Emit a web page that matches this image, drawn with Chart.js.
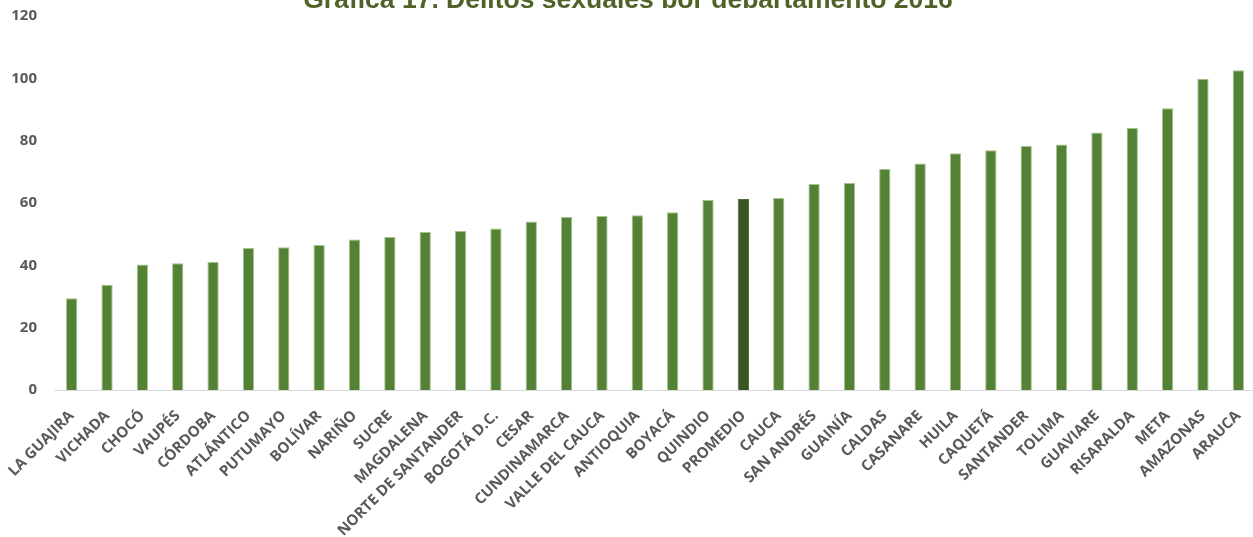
<!DOCTYPE html>
<html lang="es">
<head>
    <meta charset="UTF-8">
    <title>Delitos sexuales por departamento 2016</title>
    <script src="https://cdn.jsdelivr.net/npm/chart.js"></script>
    <style>
        html, body {
            margin: 0;
            padding: 0;
            background: #ffffff;
            overflow: hidden;
        }

        .wrap {
            position: relative;
            width: 1256px;
            height: 537px;
        }

        .title-clip {
            position: absolute;
            left: 0;
            top: 0;
            width: 1256px;
            height: 8px;
            overflow: hidden;
        }

        .title {
            position: absolute;
            left: 0;
            top: -14.4px;
            width: 1256px;
            text-align: center;
            font-family: 'Liberation Sans', Arial, sans-serif;
            font-weight: bold;
            font-size: 26.5px;
            line-height: 26.5px;
            color: #4f6228;
            white-space: nowrap;
        }
    </style>
</head>
<body>
    <div class="wrap">
        <canvas id="chart" width="1256" height="537"></canvas>
        <div class="title-clip">
            <div class="title">Gráfica 17. Delitos sexuales por departamento 2016</div>
        </div>
    </div>

    <script>
        // Departamentos, ordenados de menor a mayor
        const departamentos = [
            'LA GUAJIRA', 'VICHADA', 'CHOCÓ', 'VAUPÉS', 'CÓRDOBA', 'ATLÁNTICO',
            'PUTUMAYO', 'BOLÍVAR', 'NARIÑO', 'SUCRE', 'MAGDALENA', 'NORTE DE SANTANDER',
            'BOGOTÁ D.C.', 'CESAR', 'CUNDINAMARCA', 'VALLE DEL CAUCA', 'ANTIOQUIA', 'BOYACÁ',
            'QUINDIO', 'PROMEDIO', 'CAUCA', 'SAN ANDRÉS', 'GUAINÍA', 'CALDAS',
            'CASANARE', 'HUILA', 'CAQUETÁ', 'SANTANDER', 'TOLIMA', 'GUAVIARE',
            'RISARALDA', 'META', 'AMAZONAS', 'ARAUCA'
        ];

        // Tasa de delitos sexuales
        const tasas = [
            29.4, 33.8, 40.3, 40.7, 41.1, 45.6,
            45.8, 46.5, 48.3, 49.1, 50.7, 51.0,
            51.8, 54.1, 55.5, 55.8, 56.1, 57.0,
            61.0, 61.3, 61.6, 66.1, 66.4, 70.9,
            72.7, 76.0, 76.9, 78.3, 78.8, 82.6,
            84.1, 90.4, 99.9, 102.6
        ];

        const yTicks = [0, 20, 40, 60, 80, 100, 120];

        const verde = '#548235';
        const verdeOscuro = '#375623';
        const barColors = departamentos.map(d => d === 'PROMEDIO' ? verdeOscuro : verde);
        const borderColors = departamentos.map(d => d === 'PROMEDIO' ? '#4a6a33' : '#a6c28c');

        const tickFont = { family: "'Open Sans', sans-serif", size: 15, weight: 'bold' };

        new Chart(document.getElementById('chart').getContext('2d'), {
            type: 'bar',
            data: {
                labels: departamentos,
                datasets: [{
                    data: tasas,
                    backgroundColor: barColors,
                    borderColor: borderColors,
                    borderWidth: 1,
                    categoryPercentage: 1,
                    barPercentage: 0.32
                }]
            },
            options: {
                responsive: false,
                devicePixelRatio: 1,
                animation: false,
                layout: { padding: { top: 16, left: 0, right: 0, bottom: 0 } },
                plugins: {
                    legend: { display: false },
                    tooltip: { enabled: false },
                    title: { display: false }
                },
                scales: {
                    y: {
                        min: yTicks[0],
                        max: yTicks[yTicks.length - 1],
                        afterBuildTicks: (scale) => {
                            scale.ticks = yTicks.map(v => ({ value: v }));
                        },
                        afterFit: (scale) => { scale.width = 54; },
                        // tick marks are hidden; tickLength only spaces the labels
                        grid: { display: false, drawTicks: true, tickLength: 17 },
                        border: { display: false },
                        ticks: {
                            color: '#595959',
                            font: tickFont,
                            padding: 0
                        }
                    },
                    x: {
                        afterFit: (scale) => { scale.height = 147; },
                        grid: { display: false, drawTicks: true, tickLength: 17 },
                        border: { display: true, color: '#d9d9d9', width: 1 },
                        ticks: {
                            color: '#595959',
                            font: tickFont,
                            autoSkip: false,
                            maxRotation: 45,
                            minRotation: 45,
                            padding: 0
                        }
                    }
                }
            }
        });
    </script>
</body>
</html>
